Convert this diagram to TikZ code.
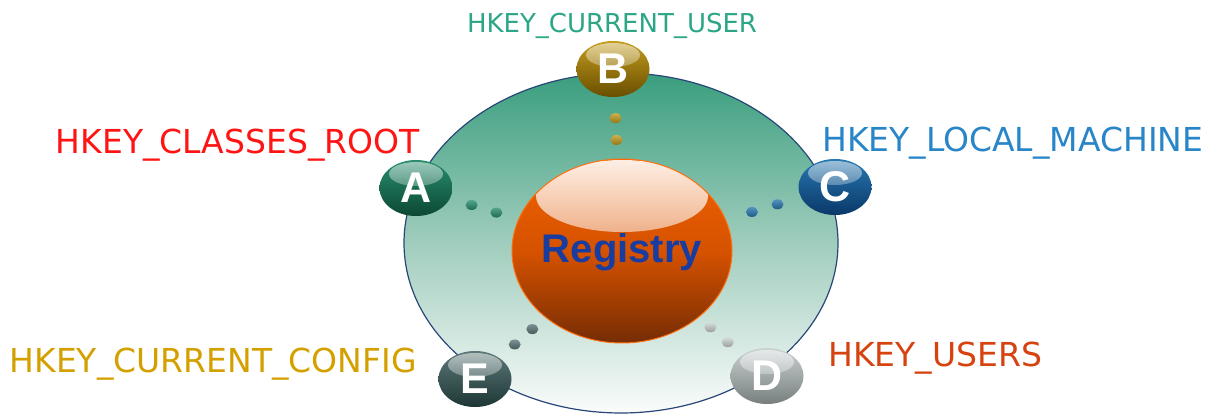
\documentclass[tikz,border=0pt]{standalone}
\usepackage{fontspec}
\setmainfont{DejaVu Sans}
\newfontfamily\arialfont{Liberation Sans}
\usetikzlibrary{shapes.geometric,fadings,calc}

\definecolor{ringtop}{RGB}{58,158,126}
\definecolor{ringmid}{RGB}{160,205,189}
\definecolor{ringbot}{RGB}{250,252,251}
\definecolor{ringline}{RGB}{40,70,120}
\definecolor{regtop}{RGB}{240,98,0}
\definecolor{regmid}{RGB}{214,82,0}
\definecolor{regbot}{RGB}{118,44,4}
\definecolor{regline}{RGB}{255,112,16}
\definecolor{regtext}{RGB}{24,60,160}
\definecolor{atop}{RGB}{40,142,110}
\definecolor{abot}{RGB}{12,72,52}
\definecolor{btop}{RGB}{196,156,30}
\definecolor{bbot}{RGB}{104,78,0}
\definecolor{ctop}{RGB}{40,120,178}
\definecolor{cbot}{RGB}{10,56,104}
\definecolor{dtop}{RGB}{204,210,210}
\definecolor{dbot}{RGB}{118,126,126}
\definecolor{etop}{RGB}{92,120,120}
\definecolor{ebot}{RGB}{30,54,54}
\definecolor{keya}{RGB}{255,20,20}
\definecolor{keyb}{RGB}{44,166,134}
\definecolor{keyc}{RGB}{40,134,200}
\definecolor{keyd}{RGB}{214,66,16}
\definecolor{keye}{RGB}{212,160,0}

\begin{document}
\begin{tikzpicture}[x=1pt,y=-1pt,
    hilite/.style n args={4}{path picture={
        \fill[white, fill opacity=#4, path fading=south]
        ([yshift=#1]path picture bounding box.center)
        ellipse [x radius=#2, y radius=#3];}},
    ball/.style={ellipse, minimum width=73pt, minimum height=56pt,
        inner sep=0pt, text=white,
        font=\arialfont\bfseries\fontsize{43}{43}\selectfont,
        hilite={14pt}{27pt}{12pt}{0.55}},
    dot/.style={ellipse, minimum width=12pt, minimum height=10pt,
        inner sep=0pt},
    key/.style={inner sep=0pt, font=\fontsize{33}{40}\selectfont}]
    \useasboundingbox (0,0) rectangle (1215,414);

    % кольцо
    \node[ellipse, minimum width=434pt, minimum height=340pt,
        draw=ringline, line width=1.2pt,
        top color=ringtop, bottom color=ringbot, middle color=ringmid]
        (ring) at (621,243) {};

    % ядро
    \node[ellipse, minimum width=220pt, minimum height=184pt,
        draw=regline, line width=1pt,
        top color=regtop, bottom color=regbot, middle color=regmid,
        hilite={55pt}{86pt}{36pt}{0.9}] (reg) at (622,251) {};
    \node[inner sep=0pt, anchor=base, text=regtext,
        font=\arialfont\bfseries\fontsize{40}{40}\selectfont]
        (regname) at ([yshift=-11pt]reg.center) {Registry};

    % шары
    \node[ball, top color=atop, bottom color=abot] (A) at (416,188) {A};
    \node[ball, top color=btop, bottom color=bbot] (B) at (613,69) {B};
    \node[ball, top color=ctop, bottom color=cbot] (C) at (835,187) {C};
    \node[ball, top color=dtop, bottom color=dbot] (D) at (767,376) {D};
    \node[ball, top color=etop, bottom color=ebot] (E) at (475,379) {E};

    % точки
    \foreach \k/\c in {A/atop,B/btop,C/ctop,D/dtop,E/etop}
        \foreach \t [count=\i] in {0.27,0.39}
            \node[dot, top color=\c!80!white, bottom color=\c!75!black]
                (\k dot\i) at ($(\k)!\t!(reg)$) {};

    % подписи
    \node[key, anchor=base east, text=keya] (Akey) at (420,154)
        {HKEY\_CLASSES\_ROOT};
    \node[key, anchor=base, text=keyb, font=\fontsize{26}{30}\selectfont]
        (Bkey) at (612,33) {HKEY\_CURRENT\_USER};
    \node[key, anchor=base west, text=keyc] (Ckey) at (822,152)
        {HKEY\_LOCAL\_MACHINE};
    \node[key, anchor=base west, text=keyd] (Dkey) at (828,366)
        {HKEY\_USERS};
    \node[key, anchor=base east, text=keye] (Ekey) at (417,372)
        {HKEY\_CURRENT\_CONFIG};
\end{tikzpicture}
\end{document}
